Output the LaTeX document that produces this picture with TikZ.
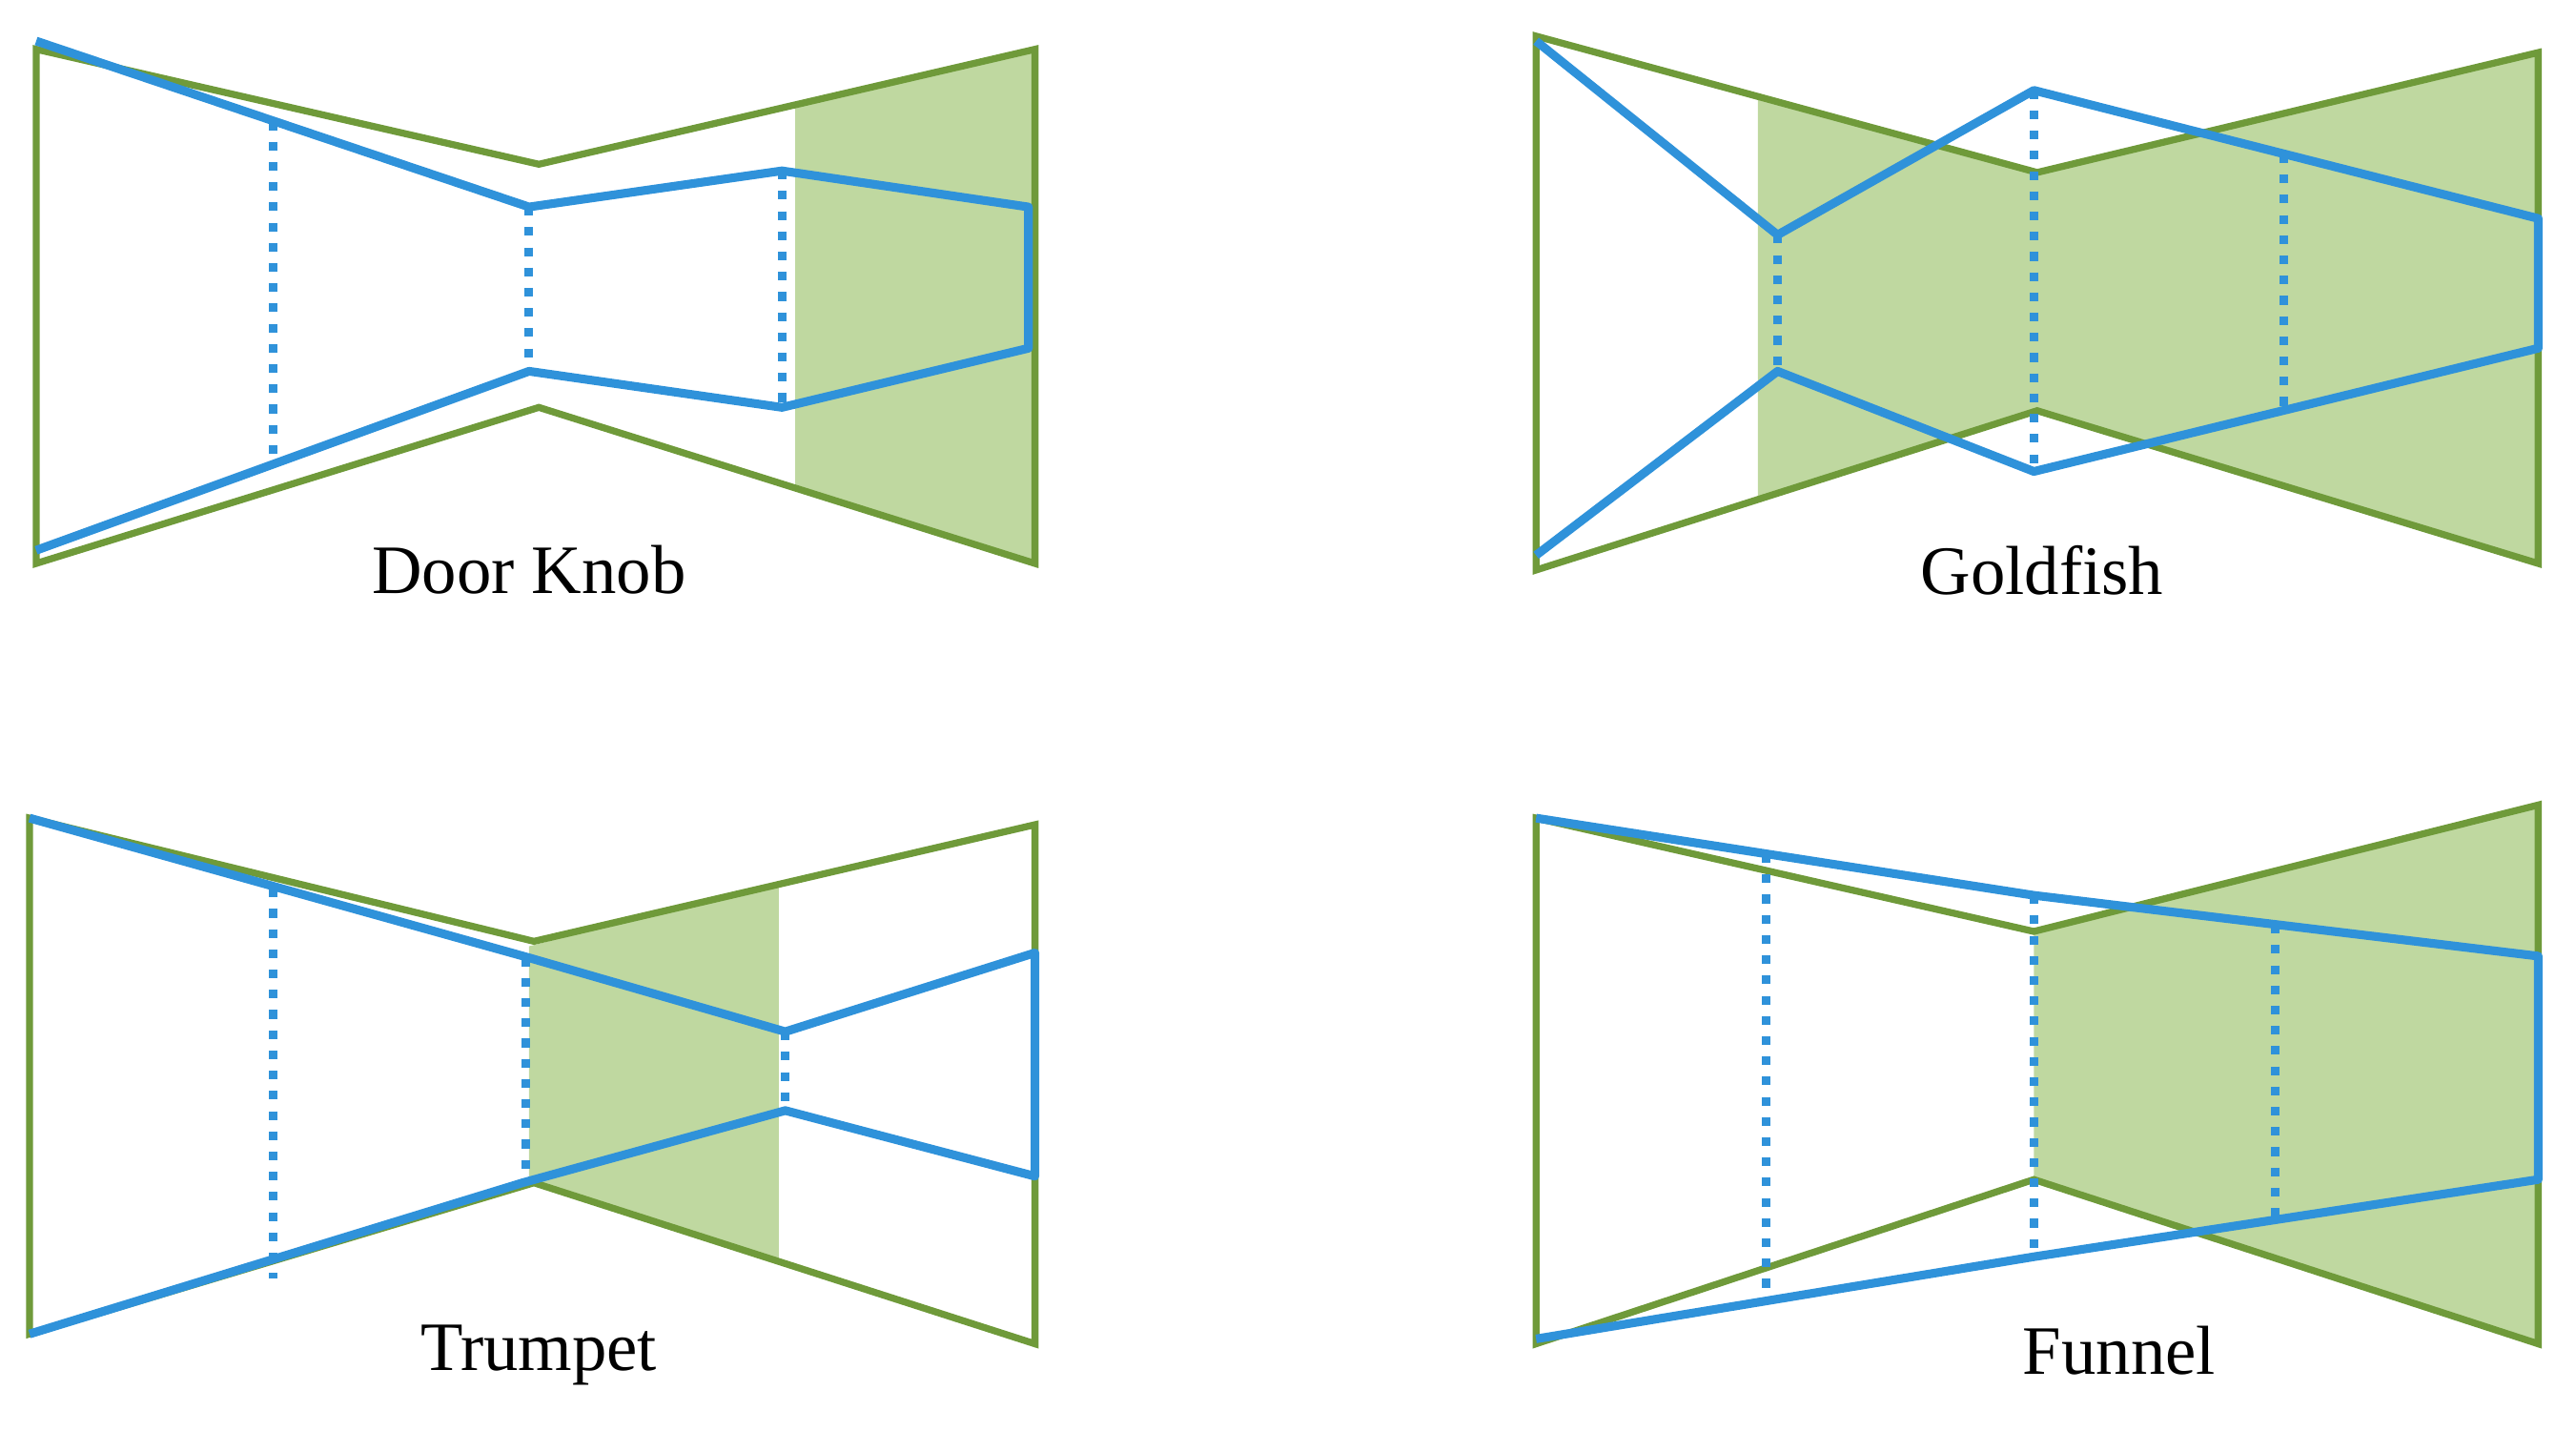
\documentclass[tikz,border=0pt]{standalone}
\usepackage{fontspec}
\setmainfont{Liberation Serif}
\definecolor{horn}{HTML}{6F9A3A}
\definecolor{hornfill}{HTML}{BFD8A0}
\definecolor{ray}{HTML}{2F92DA}
\begin{document}
\begin{tikzpicture}[x=0.01cm,y=-0.01cm]
    \tikzstyle{green} = [draw=horn, line width=1.2pt, line join=miter]
    \tikzstyle{blue} = [draw=ray, line width=1.5pt, line join=round]
    \tikzstyle{dots} = [draw=ray, line width=1.5pt, dotted]
    \tikzstyle{lbl} = [font=\fontsize{12}{14}\selectfont, anchor=center]

    \useasboundingbox (0,0) rectangle (1568,871);

    % Door Knob
    \fill[hornfill] (484,64) -- (630,30) -- (630,343) -- (484,297) -- cycle;
    \draw[green] (22,30) -- (328,100) -- (630,30) -- (630,343) -- (328,248)
        -- (22,343) -- cycle;
    \draw[blue] (22,25) -- (322,126) -- (476,104) -- (626,126) -- (626,212)
        -- (476,248) -- (322,226) -- (22,335);
    \draw[dots] (166,74) -- (166,282);
    \draw[dots] (322,126) -- (322,226);
    \draw[dots] (476,104) -- (476,248);
    \node(doorknob) [lbl] at (322,347) {Door Knob};

    % Goldfish
    \fill[hornfill] (1070,59) -- (1240,105) -- (1545,32) -- (1545,343)
        -- (1240,250) -- (1070,304) -- cycle;
    \draw[green] (935,22) -- (1240,105) -- (1545,32) -- (1545,343)
        -- (1240,250) -- (935,347) -- cycle;
    \draw[blue] (935,25) -- (1082,143) -- (1238,55) -- (1545,133)
        -- (1545,212) -- (1238,287) -- (1082,226) -- (935,338);
    \draw[dots] (1082,143) -- (1082,226);
    \draw[dots] (1238,55) -- (1238,287);
    \draw[dots] (1390,94) -- (1390,250);
    \node(goldfish) [lbl] at (1243,347) {Goldfish};

    % Trumpet
    \fill[hornfill] (322,576) -- (474,538) -- (474,766) -- (322,720) -- cycle;
    \draw[green] (18,498) -- (325,573) -- (630,502) -- (630,818) -- (325,720)
        -- (18,812) -- cycle;
    \draw[blue] (18,498) -- (322,583) -- (478,628) -- (630,580) -- (630,716)
        -- (478,676) -- (318,720) -- (18,812);
    \draw[dots] (166,541) -- (166,778);
    \draw[dots] (320,583) -- (320,720);
    \draw[dots] (478,628) -- (478,676);
    \node(trumpet) [lbl] at (328,825) {Trumpet};

    % Funnel
    \fill[hornfill] (1238,567) -- (1545,490) -- (1545,818) -- (1238,718)
        -- cycle;
    \draw[green] (935,498) -- (1238,567) -- (1545,490) -- (1545,818)
        -- (1238,718) -- (935,818) -- cycle;
    \draw[blue] (935,498) -- (1238,545) -- (1545,582) -- (1545,718)
        -- (1238,765) -- (935,815);
    \draw[dots] (1075,520) -- (1075,790);
    \draw[dots] (1238,545) -- (1238,765);
    \draw[dots] (1385,563) -- (1385,742);
    \node(funnel) [lbl] at (1290,822) {Funnel};
\end{tikzpicture}
\end{document}
